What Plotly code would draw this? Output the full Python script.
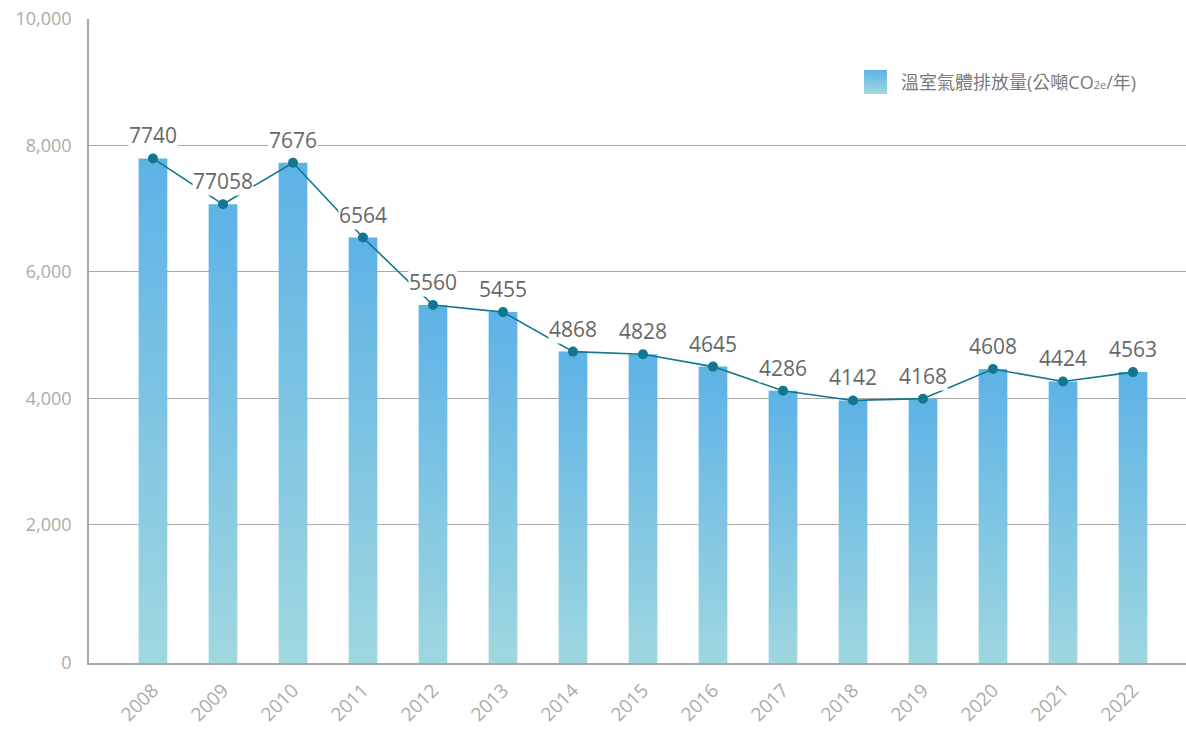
import plotly.graph_objects as go

# Annual greenhouse-gas emissions (tCO2e / year)
years = ["2008", "2009", "2010", "2011", "2012", "2013", "2014", "2015",
         "2016", "2017", "2018", "2019", "2020", "2021", "2022"]
emissions = [7740, 7058, 7676, 6564, 5560, 5455, 4868, 4828,
             4645, 4286, 4142, 4168, 4608, 4424, 4563]
# data labels as printed above each point
point_labels = ["7740", "77058", "7676", "6564", "5560", "5455", "4868", "4828",
                "4645", "4286", "4142", "4168", "4608", "4424", "4563"]
scale_labels = ["0", "2,000", "4,000", "6,000", "8,000", "10,000"]
series_name = "溫室氣體排放量(公噸CO<span style='font-size:11px'>2e</span>/年)"

BAR_GRADIENT = [[0, "#a2d9df"], [1, "#5db2e6"]]
LINE_COLOR = "#12768f"
GRID_COLOR = "#a9a9a9"
TICK_COLOR = "#ababab"
FONT = "Open Sans, Noto Sans CJK TC, sans-serif"
BAR_W = 0.41

fig = go.Figure()

# gradient-filled bars, one closed polygon per year
for i, v in enumerate(emissions):
    fig.add_trace(go.Scatter(
        x=[i - BAR_W / 2, i + BAR_W / 2, i + BAR_W / 2, i - BAR_W / 2, i - BAR_W / 2],
        y=[0, 0, v, v, 0],
        mode="lines", line=dict(width=0), fill="toself",
        fillgradient=dict(type="vertical", colorscale=BAR_GRADIENT),
        hoverinfo="skip", showlegend=False,
    ))

# trend line with markers
xs = list(range(len(years)))
fig.add_trace(go.Scatter(
    x=xs, y=emissions, mode="lines+markers",
    line=dict(color=LINE_COLOR, width=1.6),
    marker=dict(color=LINE_COLOR, size=10),
    showlegend=False, hoverinfo="skip",
))

# value labels with white background over the line
for i, (v, t) in enumerate(zip(emissions, point_labels)):
    fig.add_annotation(
        x=i, y=v, xref="x", yref="y", text=t, showarrow=False,
        yshift=23, bgcolor="white", borderpad=0,
        font=dict(family=FONT, size=21, color="#686868"),
    )

# legend swatch on its own tiny axes
fig.add_trace(go.Scatter(
    x=[0, 1, 1, 0, 0], y=[0, 0, 1, 1, 0], xaxis="x3", yaxis="y3",
    mode="lines", line=dict(width=0), fill="toself",
    fillgradient=dict(type="vertical", colorscale=BAR_GRADIENT),
    hoverinfo="skip", showlegend=False,
))
fig.add_annotation(
    xref="paper", yref="paper", x=0.7384, y=0.9022, xanchor="left", yanchor="middle",
    text=series_name, showarrow=False,
    font=dict(family=FONT, size=18, color="#7a7a7a"),
)

# scale axis: tick positions of the printed value scale
scale_min = -188
scale_vals = [scale_min, 2000, 4000, 6000, 8000, 10000]

fig.update_layout(
    width=1186, height=730,
    margin=dict(l=89, r=0, t=19, b=67, autoexpand=False),
    paper_bgcolor="white", plot_bgcolor="white",
    font=dict(family=FONT),
    showlegend=False,
    xaxis=dict(
        range=[-0.914, 14.757], tickmode="array", tickvals=xs, ticktext=years,
        tickangle=-45, showgrid=False, zeroline=False, automargin=False,
        showline=True, linecolor=GRID_COLOR, linewidth=1.5,
        ticks="", ticklabelstandoff=7,
        tickfont=dict(family=FONT, size=19, color=TICK_COLOR),
    ),
    yaxis=dict(
        range=[238, 9813], showgrid=False, zeroline=False, showticklabels=False,
        showline=False, automargin=False,
    ),
    yaxis2=dict(
        overlaying="y", side="left", range=[scale_min, 10000],
        tickmode="array", tickvals=scale_vals, ticktext=scale_labels,
        showgrid=True, gridcolor=GRID_COLOR, gridwidth=1, zeroline=False,
        showline=True, linecolor=GRID_COLOR, linewidth=1.5, automargin=False,
        ticks="", ticklabelstandoff=12,
        tickfont=dict(family=FONT, size=18, color=TICK_COLOR),
    ),
    xaxis3=dict(domain=[0.7065, 0.7274], range=[0, 1], visible=False, anchor="y3"),
    yaxis3=dict(domain=[0.8835, 0.9208], range=[0, 1], visible=False, anchor="x3"),
)

# keep the scale axis drawn even without traces of its own
fig.add_trace(go.Scatter(x=[None], y=[None], yaxis="y2", showlegend=False, hoverinfo="skip"))

fig.write_html("out.html")
